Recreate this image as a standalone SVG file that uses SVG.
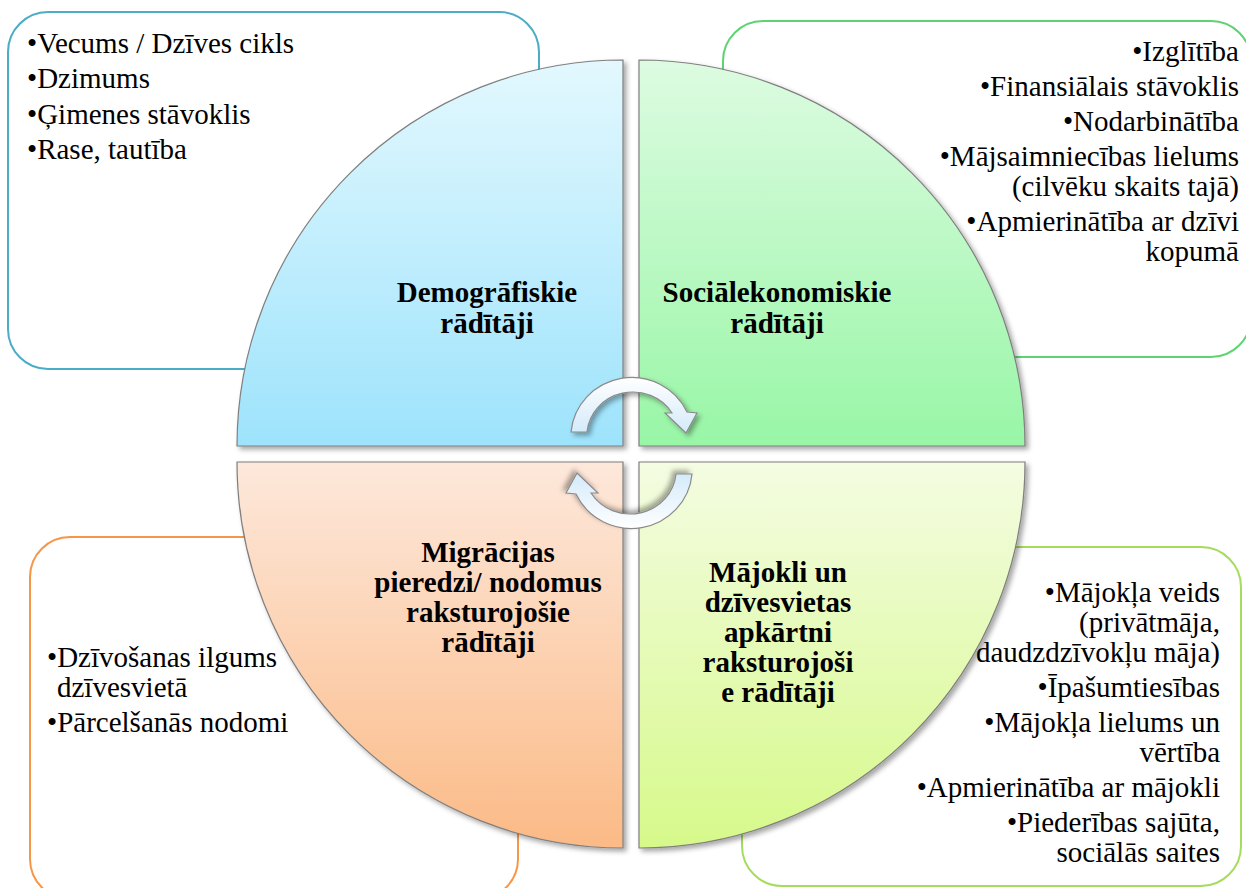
<svg xmlns="http://www.w3.org/2000/svg" width="1246" height="888" viewBox="0 0 1246 888">
<defs>
<linearGradient id="gBlue" x1="0" y1="0" x2="0" y2="1"><stop offset="0" stop-color="#e3f8fe"/><stop offset="1" stop-color="#9de3fc"/></linearGradient>
<linearGradient id="gGreen" x1="0" y1="0" x2="0" y2="1"><stop offset="0" stop-color="#ddfbe1"/><stop offset="1" stop-color="#98f6a6"/></linearGradient>
<linearGradient id="gOrange" x1="0" y1="0" x2="0" y2="1"><stop offset="0" stop-color="#fde8db"/><stop offset="1" stop-color="#fbba86"/></linearGradient>
<linearGradient id="gLime" x1="0" y1="0" x2="0" y2="1"><stop offset="0" stop-color="#f4fce2"/><stop offset="1" stop-color="#d6f98a"/></linearGradient>
<linearGradient id="gArrow" x1="0" y1="0" x2="0" y2="1"><stop offset="0" stop-color="#ffffff"/><stop offset="1" stop-color="#d4eafa"/></linearGradient>
<filter id="shadow" x="-10%" y="-10%" width="130%" height="130%">
<feDropShadow dx="3" dy="3" stdDeviation="2.5" flood-color="#000" flood-opacity="0.35"/>
</filter>
</defs>
<style>
.box{fill:#ffffff;stroke-width:2}
.quad{stroke:#7f7f7f;stroke-width:1.2;filter:url(#shadow)}
.item{font-size:29px;fill:#000}
.end{text-anchor:end}
.lbl{font-size:29px;font-weight:bold;fill:#000;text-anchor:middle}
.arrow{fill:url(#gArrow);stroke:#8a8a8a;stroke-width:1.2;filter:url(#shadow)}
</style>
<rect width="1246" height="888" fill="#ffffff"/>

<g font-family="'Liberation Serif', 'Times New Roman', Tinos, 'DejaVu Serif', serif">
<g id="box-demografiskie">
<rect class="box" x="8" y="12" width="531" height="357" rx="40" stroke="#4bacc6"/>
<text class="item" x="27" y="53">•Vecums / Dzīves cikls</text>
<text class="item" x="27" y="88">•Dzimums</text>
<text class="item" x="27" y="124">•Ģimenes stāvoklis</text>
<text class="item" x="27" y="159">•Rase, tautība</text>
</g>

<g id="box-socialekonomiskie">
<rect class="box" x="723" y="21" width="528" height="336" rx="40" stroke="#5fd372"/>
<text class="item end" x="1239" y="61">•Izglītība</text>
<text class="item end" x="1239" y="96">•Finansiālais stāvoklis</text>
<text class="item end" x="1239" y="131">•Nodarbinātība</text>
<text class="item end" x="1239" y="166">•Mājsaimniecības lielums</text>
<text class="item end" x="1239" y="196">(cilvēku skaits tajā)</text>
<text class="item end" x="1239" y="231">•Apmierinātība ar dzīvi</text>
<text class="item end" x="1239" y="261">kopumā</text>
</g>

<g id="box-migracijas">
<rect class="box" x="30" y="537" width="488" height="362" rx="40" stroke="#f79646"/>
<text class="item" x="47" y="667">•Dzīvošanas ilgums</text>
<text class="item" x="57" y="697">dzīvesvietā</text>
<text class="item" x="47" y="732">•Pārcelšanās nodomi</text>
</g>

<g id="box-majokli">
<rect class="box" x="742" y="547" width="499" height="339" rx="40" stroke="#a5dc5c"/>
<text class="item end" x="1220" y="602">•Mājokļa veids</text>
<text class="item end" x="1220" y="632">(privātmāja,</text>
<text class="item end" x="1220" y="662">daudzdzīvokļu māja)</text>
<text class="item end" x="1220" y="697">•Īpašumtiesības</text>
<text class="item end" x="1220" y="732">•Mājokļa lielums un</text>
<text class="item end" x="1220" y="762">vērtība</text>
<text class="item end" x="1220" y="797">•Apmierinātība ar mājokli</text>
<text class="item end" x="1220" y="832">•Piederības sajūta,</text>
<text class="item end" x="1220" y="862">sociālās saites</text>
</g>

<g id="quad-demografiskie">
<path class="quad" fill="url(#gBlue)" d="M623,446 L237,446 A386,386 0 0 1 623,60 Z"/>
<text class="lbl" x="487" y="302">Demogrāfiskie</text>
<text class="lbl" x="487" y="333">rādītāji</text>
</g>

<g id="quad-socialekonomiskie">
<path class="quad" fill="url(#gGreen)" d="M639,446 L639,60 A386,386 0 0 1 1025,446 Z"/>
<text class="lbl" x="777" y="302">Sociālekonomiskie</text>
<text class="lbl" x="777" y="333">rādītāji</text>
</g>

<g id="quad-migracijas">
<path class="quad" fill="url(#gOrange)" d="M623,462 L623,848 A386,386 0 0 1 237,462 Z"/>
<text class="lbl" x="488" y="562">Migrācijas</text>
<text class="lbl" x="488" y="592">pieredzi/ nodomus</text>
<text class="lbl" x="488" y="622">raksturojošie</text>
<text class="lbl" x="488" y="652">rādītāji</text>
</g>

<g id="quad-majokli">
<path class="quad" fill="url(#gLime)" d="M639,462 L1025,462 A386,386 0 0 1 639,848 Z"/>
<text class="lbl" x="778" y="582">Mājokli un</text>
<text class="lbl" x="778" y="612">dzīvesvietas</text>
<text class="lbl" x="778" y="642">apkārtni</text>
<text class="lbl" x="778" y="672">raksturojoši</text>
<text class="lbl" x="778" y="702">e rādītāji</text>
</g>
</g>

<g id="connectors">
<path id="arrow-top" class="arrow" d="M571,432 A61,60 0 0 1 687,412 L697,413 L686,433 L665,413 L672,413 A46,44 0 0 0 587,432 Z"/>
<path id="arrow-bottom" class="arrow" transform="rotate(180 631.5 453)" d="M571,432 A61,60 0 0 1 687,412 L697,413 L686,433 L665,413 L672,413 A46,44 0 0 0 587,432 Z"/>
</g>
</svg>
